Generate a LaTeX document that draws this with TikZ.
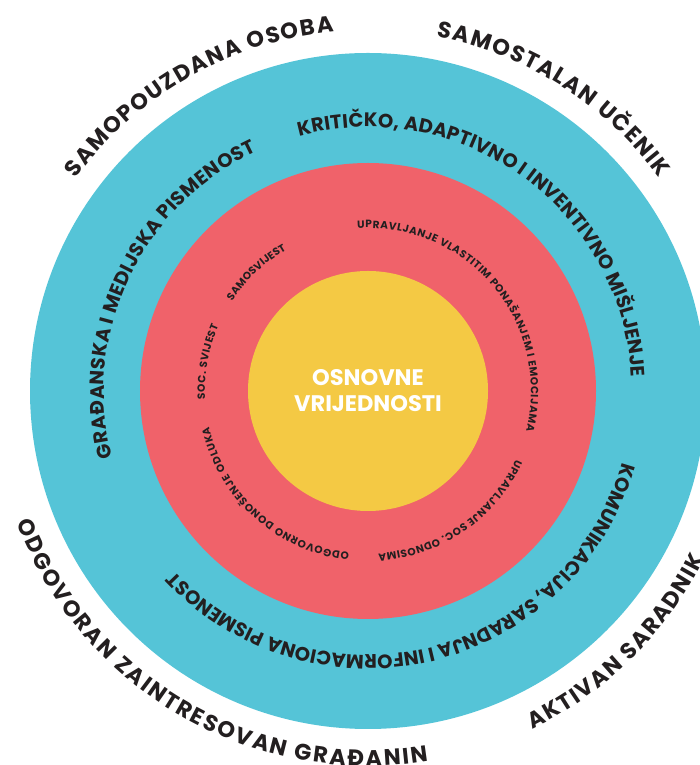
\documentclass[tikz,border=0pt]{standalone}
\usepackage{fontspec}
\setmainfont{Poppins}
\usetikzlibrary{calc}
\usetikzlibrary{decorations.text}
\definecolor{ringblue}{HTML}{55C4D7}
\definecolor{ringred}{HTML}{F0626A}
\definecolor{coreyellow}{HTML}{F4C944}
\definecolor{ink}{HTML}{231F20}
\newcommand{\outerfont}{\bfseries\fontsize{22.5}{22.5}\selectfont}
\newcommand{\ringfont}{\bfseries\fontsize{19.5}{19.5}\selectfont}
\newcommand{\innerfont}{\bfseries\fontsize{10.5}{10.5}\selectfont}
\tikzstyle{disc} = [circle, inner sep=0pt, draw=none]
\tikzstyle{along} = [decorate, decoration={text along path,
    text align=fit to path, text color=ink}]

\begin{document}
\begin{tikzpicture}[x=1pt, y=1pt]
    \useasboundingbox (0,0) rectangle (700,765);
    \clip (0,0) rectangle (700,765);
    \coordinate (c) at (368,374);
    % Place discs
    \node [disc, fill=ringblue, minimum size=676pt] (blue) at (c) {};
    \node [disc, fill=ringred, minimum size=456pt] (red) at (c) {};
    \node [disc, fill=coreyellow, minimum size=240pt] (core) at (c) {};
    \node [align=center, text=white, font=\bfseries\fontsize{22.5}{26}\selectfont] (values) at (c) {OSNOVNE\\VRIJEDNOSTI};
    % Outer words
    \path [along, decoration={text={|\outerfont|SAMOPOUZDANA OSOBA}}]
        ($(c)+(144:361pt)$) arc [start angle=144, end angle=95.4, radius=361pt];
    \path [along, decoration={text={|\outerfont|SAMOSTALAN UČENIK}}]
        ($(c)+(79:361pt)$) arc [start angle=79, end angle=36.2, radius=361pt];
    \path [along, decoration={text={|\outerfont|ODGOVORAN ZAINTRESOVAN GRAĐANIN}}]
        ($(c)+(200.5:375pt)$) arc [start angle=200.5, end angle=279.2, radius=375pt];
    \path [along, decoration={text={|\outerfont|AKTIVAN SARADNIK}}]
        ($(c)+(296:376pt)$) arc [start angle=296, end angle=333.5, radius=376pt];
    % Blue ring
    \path [along, decoration={text={|\ringfont|GRAĐANSKA I MEDIJSKA PISMENOST}}]
        ($(c)+(194.5:264pt)$) arc [start angle=194.5, end angle=115, radius=264pt];
    \path [along, decoration={text={|\ringfont|KRITIČKO, ADAPTIVNO I INVENTIVNO MIŠLJENJE}}]
        ($(c)+(105.1:264pt)$) arc [start angle=105.1, end angle=3, radius=264pt];
    \path [along, decoration={text={|\ringfont|KOMUNIKACIJA, SARADNJA I INFORMACIONA PISMENOST}}]
        ($(c)+(-15.7:264pt)$) arc [start angle=-15.7, end angle=-136.5, radius=264pt];
    % Red ring
    \path [along, decoration={text={|\innerfont|SOC. SVIJEST}}]
        ($(c)+(182.9:163pt)$) arc [start angle=182.9, end angle=156.4, radius=163pt];
    \path [along, decoration={text={|\innerfont|SAMOSVIJEST}}]
        ($(c)+(146.5:163pt)$) arc [start angle=146.5, end angle=120, radius=163pt];
    \path [along, decoration={text={|\innerfont|UPRAVLJANJE VLASTITIM PONAŠANJEM I EMOCIJAMA}}]
        ($(c)+(93.7:163pt)$) arc [start angle=93.7, end angle=-14.2, radius=163pt];
    \path [along, decoration={text={|\innerfont|UPRAVLJANJE SOC. ODNOSIMA}}]
        ($(c)+(-24.9:163pt)$) arc [start angle=-24.9, end angle=-86.4, radius=163pt];
    \path [along, decoration={text={|\innerfont|ODGOVORNO DONOŠENJE ODLUKA}}]
        ($(c)+(-96.6:163pt)$) arc [start angle=-96.6, end angle=-167.3, radius=163pt];
\end{tikzpicture}
\end{document}
